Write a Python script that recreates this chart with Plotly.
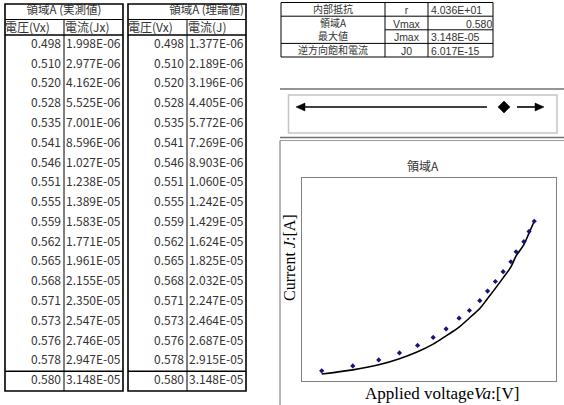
import plotly.graph_objects as go

W, H = 564, 405

# ---------------- data ----------------
meas_v = [0.498, 0.510, 0.520, 0.528, 0.535, 0.541, 0.546, 0.551, 0.555,
          0.559, 0.562, 0.565, 0.568, 0.571, 0.573, 0.576, 0.578, 0.580]
meas_j = [1.998e-06, 2.977e-06, 4.162e-06, 5.525e-06, 7.001e-06, 8.596e-06,
          1.027e-05, 1.238e-05, 1.389e-05, 1.583e-05, 1.771e-05, 1.961e-05,
          2.155e-05, 2.350e-05, 2.547e-05, 2.746e-05, 2.947e-05, 3.148e-05]
theo_v = [0.498, 0.510, 0.520, 0.528, 0.535, 0.541, 0.546, 0.551, 0.555,
          0.559, 0.562, 0.565, 0.568, 0.571, 0.573, 0.576, 0.578, 0.580]
theo_j = [1.377e-06, 2.189e-06, 3.196e-06, 4.405e-06, 5.772e-06, 7.269e-06,
          8.903e-06, 1.060e-05, 1.242e-05, 1.429e-05, 1.624e-05, 1.825e-05,
          2.032e-05, 2.247e-05, 2.464e-05, 2.687e-05, 2.915e-05, 3.148e-05]

param_names = ["内部抵抗", "領域A", "最大値", "逆方向飽和電流"]
param_syms = ["r", "Vmax", "Jmax", "J0"]
param_vals = ["4.036E+01", "0.580", "3.148E-05", "6.017E-15"]
param_right = [False, True, False, False]

chart_title = "領域A"
x_title = "Applied voltage<i>Va</i>:[V]"
y_title = "Current <i>J</i>:[A]"

# ---------------- styling ----------------
JP = "Noto Sans CJK JP"
LAT = "Liberation Sans"
TXT = "#333333"

fig = go.Figure()

# chart traces
fig.add_trace(go.Scatter(x=theo_v, y=theo_j, mode="lines",
                         line=dict(color="black", width=1.6, shape="spline"),
                         xaxis="x", yaxis="y", hoverinfo="skip", showlegend=False))
fig.add_trace(go.Scatter(x=meas_v, y=meas_j, mode="markers",
                         marker=dict(color="#14147a", size=4, symbol="diamond"),
                         xaxis="x", yaxis="y", hoverinfo="skip", showlegend=False))


def add_text(xs, ys, texts, pos, size=12, family=JP):
    fig.add_trace(go.Scatter(x=xs, y=ys, text=texts, mode="text", textposition=pos,
                             textfont=dict(family=family, size=size, color=TXT),
                             xaxis="x2", yaxis="y2", hoverinfo="skip",
                             showlegend=False, cliponaxis=False))


shapes = []
annotations = []


def line(x0, y0, x1, y1, w=1, c="black"):
    shapes.append(dict(type="line", xref="x2", yref="y2", x0=x0, y0=y0, x1=x1, y1=y1,
                       line=dict(color=c, width=w)))


def block(x, y, lines, xanchor, size, family):
    annotations.append(dict(text="<br>".join(lines), xref="x2", yref="y2", x=x, y=y,
                            xanchor=xanchor, yanchor="middle", align=xanchor,
                            showarrow=False, borderpad=0,
                            font=dict(family=family, size=size, color=TXT)))


# ---------------- data tables ----------------
T_TOP, HDR1, HDR2, T_BOT = 4, 19.5, 35, 391
ROW_H = (T_BOT - HDR2) / len(meas_v)

tables = [
    (5, 64, 123, "領域A (実測値)", "center", "電圧(Vx)", "電流(Jx)", meas_v, meas_j),
    (128, 187, 246, "領域A (理論値)", "right", "電圧(Vx)", "電流(J)", theo_v, theo_j),
]
for left, mid, right, h1, h1al, h2a, h2b, vs, js in tables:
    shapes.append(dict(type="rect", xref="x2", yref="y2", x0=left, x1=right,
                       y0=T_TOP, y1=T_BOT, line=dict(color="black", width=1.6)))
    line(left, HDR1, right, HDR1, 1)
    line(left, HDR2, right, HDR2, 1.6)
    line(mid, HDR1, mid, T_BOT, 1)
    line(left, HDR2 + ROW_H * (len(vs) - 1), right, HDR2 + ROW_H * (len(vs) - 1), 1.6)
    if h1al == "center":
        add_text([(left + right) / 2], [11.5], [h1], "middle center", 11.5)
    else:
        add_text([right - 2], [11.5], [h1], "middle left", 11.5)
    add_text([left], [28.5], [h2a], "middle right", 12)
    add_text([mid + 1], [28.5], [h2b], "middle right", 12)
    ys = [HDR2 + ROW_H * (i + 0.5) for i in range(len(vs))]
    add_text([mid - 3] * len(vs), ys, [f"{v:.3f}" for v in vs], "middle left", 12)
    add_text([mid + 2] * len(js), ys, [f"{j:.3E}" for j in js], "middle right", 12)

# ---------------- parameter table ----------------
P_COLS = [281, 385, 428, 493]
P_ROWS = [2.5, 16.2, 29.8, 43.4, 57]
shapes.append(dict(type="rect", xref="x2", yref="y2", x0=P_COLS[0], x1=P_COLS[-1],
                   y0=P_ROWS[0], y1=P_ROWS[-1], line=dict(color="black", width=1)))
for cx in P_COLS[1:-1]:
    line(cx, P_ROWS[0], cx, P_ROWS[-1], 1)
line(P_COLS[0], P_ROWS[1], P_COLS[-1], P_ROWS[1], 1)
line(P_COLS[1], P_ROWS[2], P_COLS[-1], P_ROWS[2], 1)
line(P_COLS[0], P_ROWS[3], P_COLS[-1], P_ROWS[3], 1)
P_MID = (P_ROWS[0] + P_ROWS[-1]) / 2 + 0.5
p_ys = [(P_ROWS[i] + P_ROWS[i + 1]) / 2 + 1.3 for i in range(len(param_names))]
add_text([(P_COLS[0] + P_COLS[1]) / 2] * len(param_names), p_ys, param_names,
         "middle center", 10)
block((P_COLS[1] + P_COLS[2]) / 2, P_MID, param_syms, "center", 10.5, LAT)
NBSP = "\u00a0"
col3 = [(NBSP * 12 + v) if r else v for v, r in zip(param_vals, param_right)]
block(P_COLS[2] + 2, P_MID, col3, "left", 10.5, LAT)

# ---------------- scroll bar control ----------------
line(280, 89, W, 89, 1.5, "#707070")
line(280, 137.5, W, 137.5, 1.5, "#707070")
shapes.append(dict(type="rect", xref="x2", yref="y2", x0=288.5, x1=557, y0=95, y1=133,
                   line=dict(color="#c4c4c4", width=1.5)))
line(303, 107, 487, 107, 1.6)
shapes.append(dict(type="path", xref="x2", yref="y2", path="M 296 107 L 305 103 L 305 111 Z",
                   fillcolor="black", line=dict(color="black", width=0.5)))
shapes.append(dict(type="path", xref="x2", yref="y2", path="M 504 101 L 510 107 L 504 113 L 498 107 Z",
                   fillcolor="black", line=dict(color="black", width=0.5)))
line(517, 107, 537, 107, 1.6)
shapes.append(dict(type="path", xref="x2", yref="y2", path="M 544 107 L 535 103 L 535 111 Z",
                   fillcolor="black", line=dict(color="black", width=0.5)))

# ---------------- chart area frame ----------------
line(280, 140.5, W, 140.5, 1, "#9a9a9a")
line(280, 140.5, 280, H, 1, "#707070")

annotations += [
    dict(text=chart_title, xref="x2", yref="y2", x=423, y=165, showarrow=False,
         font=dict(family=JP, size=12, color="#333")),
    dict(text=x_title, xref="x2", yref="y2", x=442, y=393.5, showarrow=False,
         font=dict(family="Liberation Serif", size=17, color="black")),
    dict(text=y_title, xref="x2", yref="y2", x=289, y=258, showarrow=False, textangle=-90,
         font=dict(family="Liberation Serif", size=16, color="black")),
]

PL, PR, PT, PB = 302, 556, 178, 381
fig.update_layout(
    width=W, height=H, margin=dict(l=0, r=0, t=0, b=0),
    paper_bgcolor="white", plot_bgcolor="rgba(0,0,0,0)",
    xaxis=dict(domain=[PL / W, PR / W], range=[0.4904, 0.5884], showgrid=False,
               zeroline=False, showticklabels=False, ticks="", showline=True, mirror=True,
               linecolor="#808080", linewidth=1, anchor="y", fixedrange=True),
    yaxis=dict(domain=[1 - PB / H, 1 - PT / H], range=[0, 4.0e-5], showgrid=False,
               zeroline=False, showticklabels=False, ticks="", showline=True, mirror=True,
               linecolor="#808080", linewidth=1, anchor="x", fixedrange=True),
    xaxis2=dict(domain=[0, 1], range=[0, W], visible=False, anchor="y2", fixedrange=True),
    yaxis2=dict(domain=[0, 1], range=[H, 0], visible=False, anchor="x2", fixedrange=True),
    shapes=shapes, annotations=annotations, showlegend=False,
)

fig.write_html("out.html", config={"displayModeBar": False},
               post_script="document.body.style.margin='0px';")
